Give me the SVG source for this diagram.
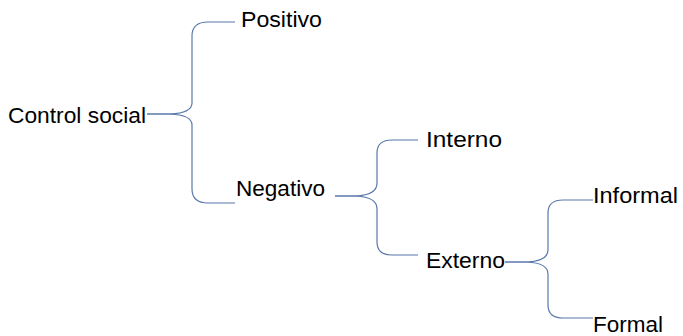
<svg xmlns="http://www.w3.org/2000/svg" width="683" height="336" viewBox="0 0 683 336">
<style>
.t{font-family:"Liberation Sans",Arial,sans-serif;font-size:21.5px;fill:#000}
.b{fill:none;stroke:#5a79ab;stroke-width:1.2}
</style>
<rect width="683" height="336" fill="#fff"/>
<g id="connectors">
<path class="b" d="M235,22 H208 Q192,22 192,36 V103 Q192,113 170,114 H147"/>
<path class="b" d="M235,203 H208 Q192,203 192,189 V125 Q192,115 170,114 H147"/>
<path class="b" d="M418,140 H392 Q377,140 377,153 V183 Q377,195 356,196 H335"/>
<path class="b" d="M418,255 H392 Q377,255 377,242 V209 Q377,197 356,196 H335"/>
<path class="b" d="M593,200 H563 Q548,200 548,213 V250 Q548,261 527,262 H505"/>
<path class="b" d="M593,318 H563 Q548,318 548,305 V274 Q548,263 527,262 H505"/>
</g>
<g id="control-social"><text class="t" x="8" y="123" textLength="138" lengthAdjust="spacingAndGlyphs">Control social</text></g>
<g id="positivo"><text class="t" x="241" y="27" textLength="81" lengthAdjust="spacingAndGlyphs">Positivo</text></g>
<g id="negativo"><text class="t" x="236" y="196" textLength="89" lengthAdjust="spacingAndGlyphs">Negativo</text></g>
<g id="interno"><text class="t" x="426" y="147" textLength="76" lengthAdjust="spacingAndGlyphs">Interno</text></g>
<g id="externo"><text class="t" x="426" y="268" textLength="79" lengthAdjust="spacingAndGlyphs">Externo</text></g>
<g id="informal"><text class="t" x="593" y="203" textLength="85" lengthAdjust="spacingAndGlyphs">Informal</text></g>
<g id="formal"><text class="t" x="593" y="332" textLength="70" lengthAdjust="spacingAndGlyphs">Formal</text></g>
</svg>
